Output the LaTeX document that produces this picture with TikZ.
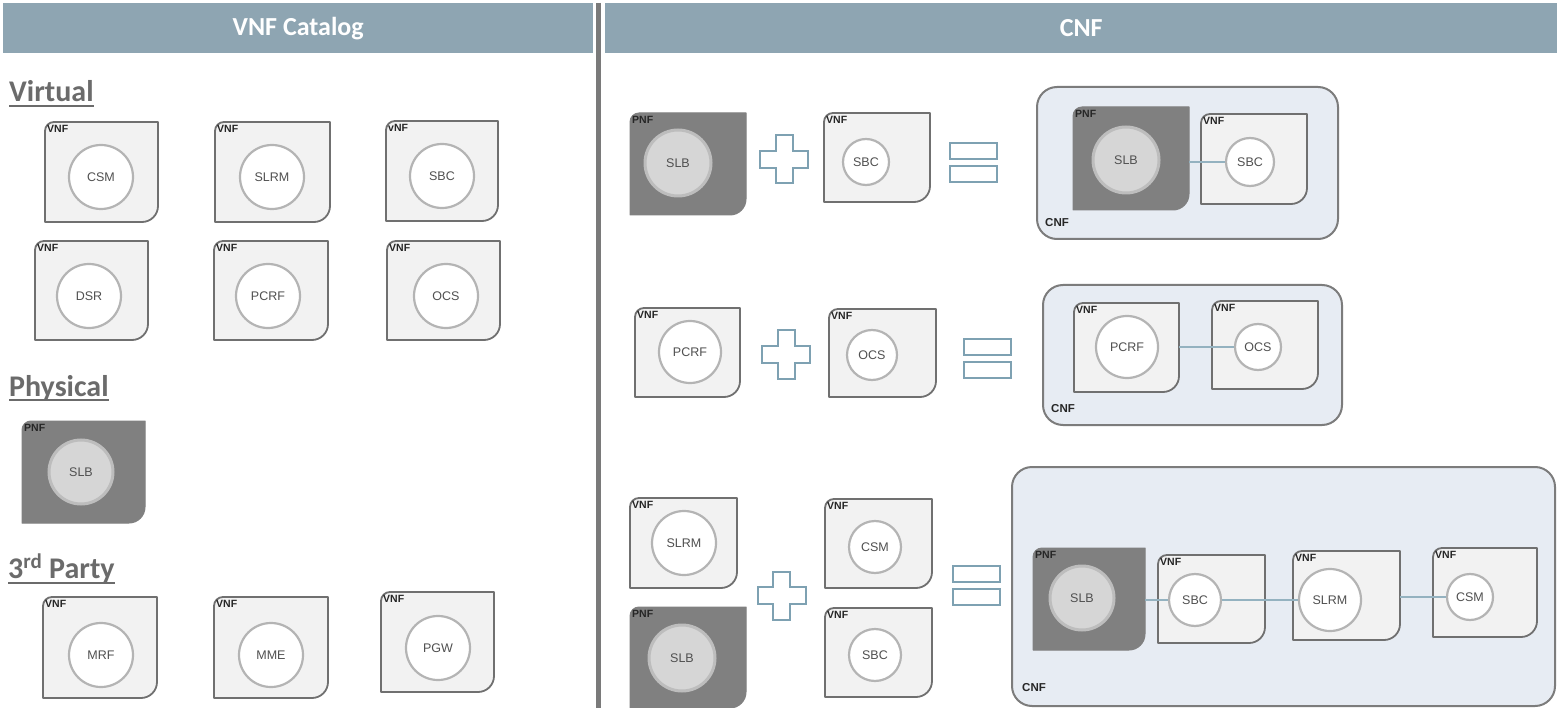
\documentclass[tikz,border=0pt]{standalone}
\usepackage{fontspec}
\setmainfont{Liberation Sans}
\newfontfamily\calfont{Carlito}
\usetikzlibrary{calc}

\definecolor{headblue}{HTML}{8EA5B2}
\definecolor{divgray}{HTML}{7A7A7A}
\definecolor{boxfill}{HTML}{F2F2F2}
\definecolor{boxline}{HTML}{707070}
\definecolor{ringgray}{HTML}{B4B4B4}
\definecolor{pnffill}{HTML}{808080}
\definecolor{pnfcorefill}{HTML}{D6D6D6}
\definecolor{pnfring}{HTML}{BDBDBD}
\definecolor{cnffill}{HTML}{E7ECF3}
\definecolor{cnfline}{HTML}{7C7C7C}
\definecolor{opblue}{HTML}{7EA1B2}
\definecolor{linkblue}{HTML}{94B2C0}
\definecolor{labelgray}{HTML}{6B6B6B}
\definecolor{coretext}{HTML}{505050}

\tikzset{
  frame/.style={inner sep=0pt, outer sep=0pt, draw=none},
  vnfshape/.style={fill=boxfill, draw=boxline, line width=1.8pt, line join=round},
  pnfshape/.style={fill=pnffill, draw=pnffill, line width=1pt, line join=round},
  vnfcore/.style={circle, fill=white, draw=ringgray, line width=2.2pt, inner sep=0pt,
    font=\fontsize{12.5}{12.5}\selectfont, text=coretext},
  pnfcore/.style={circle, fill=pnfcorefill, draw=pnfring, line width=3pt, inner sep=0pt,
    font=\fontsize{12.5}{12.5}\selectfont, text=coretext},
  tag/.style={font=\bfseries\fontsize{10.5}{10.5}\selectfont, inner sep=0pt, anchor=north west, text=black!85},
  cnftag/.style={font=\bfseries\fontsize{11.5}{11.5}\selectfont, inner sep=0pt, anchor=west, text=black!85},
  cnfbox/.style={rectangle, rounded corners=20pt, fill=cnffill, draw=cnfline, line width=2pt, inner sep=0pt},
  headbar/.style={rectangle, fill=headblue, inner sep=0pt, anchor=north west, minimum height=50pt,
    text=white, font=\calfont\bfseries\fontsize{26}{26}\selectfont},
  divline/.style={draw=divgray, line width=5pt},
  section/.style={anchor=base west, inner sep=0pt, text=labelgray,
    font=\calfont\bfseries\fontsize{30}{30}\selectfont},
  underline/.style={draw=labelgray, line width=2pt},
  opsign/.style={draw=opblue, line width=2pt, fill=white},
  link/.style={draw=linkblue, line width=2pt}
}

% function box: style, name, centre, width, height, tag
\newcommand\nfbox[6]{%
  \node[frame, minimum width=#4pt, minimum height=#5pt] (#2) at (#3) {};
  \path[#1] (#2.west) [rounded corners=9pt] -- (#2.north west) -- (#2.north)
     [sharp corners] -- (#2.north east) -- (#2.east)
     [rounded corners=16pt] -- (#2.south east) -- (#2.south)
     [sharp corners] -- (#2.south west) -- cycle;
  \node[tag] (#2-tag) at ([xshift=2pt,yshift=-3pt]#2.north west) {#6};
}
% function core: style, name, centre, diameter, text
\newcommand\nfcore[5]{\node[#1, minimum size=#4pt] (#2) at (#3) {#5};}
% plus sign
\newcommand\plusmark[2]{%
  \node[frame, minimum size=48pt] (#1) at (#2) {};
  \draw[opsign] (#1.center) ++(-8.5,-24) -- ++(17,0) -- ++(0,15.5) -- ++(15.5,0)
    -- ++(0,17) -- ++(-15.5,0) -- ++(0,15.5) -- ++(-17,0) -- ++(0,-15.5)
    -- ++(-15.5,0) -- ++(0,-17) -- ++(15.5,0) -- cycle;
}
% equals sign
\newcommand\equalmark[2]{%
  \node[frame, minimum width=47pt, minimum height=39pt] (#1) at (#2) {};
  \draw[opsign] (#1.north west) rectangle ++(47,16);
  \draw[opsign] (#1.south west) rectangle ++(47,-16);
}

\begin{document}
\begin{tikzpicture}[x=1pt,y=-1pt]
\useasboundingbox (0,0) rectangle (1557,708);
\fill[white] (0,0) rectangle (1557,708);

% headers and divider
\node[headbar, minimum width=590pt] (cathead) at (3,3) {VNF Catalog};
\node[headbar, minimum width=952pt] (cnfhead) at (605,3) {CNF};
\coordinate (divtop) at (598,3);
\coordinate (divbot) at (598,708);
\draw[divline] (divtop) -- (divbot);

% ---------------- catalogue ----------------
\node[section] (virt) at (9,102) {Virtual};
\draw[underline] ([yshift=-4pt]virt.base west) -- ([yshift=-4pt]virt.base east);
\node[section] (phys) at (9,396) {Physical};
\draw[underline] ([yshift=-4pt]phys.base west) -- ([yshift=-4pt]phys.base east);
\node[section] (third) at (8,578) {3\textsuperscript{rd} Party};
\draw[underline] ([yshift=-5pt]third.base west) -- ([yshift=-5pt]third.base east);

\nfbox{vnfshape}{cCSM}{101.5,172}{113}{100}{VNF}
\nfcore{vnfcore}{cCSMc}{101,177}{64}{CSM}
\nfbox{vnfshape}{cSLRM}{272.5,172}{115}{100}{VNF}
\nfcore{vnfcore}{cSLRMc}{272,177}{64}{SLRM}
\nfbox{vnfshape}{cSBC}{442,171}{112}{100}{vNF}
\nfcore{vnfcore}{cSBCc}{442,176}{64}{SBC}
\nfbox{vnfshape}{cDSR}{91.5,290.5}{113}{99}{VNF}
\nfcore{vnfcore}{cDSRc}{89,296}{64}{DSR}
\nfbox{vnfshape}{cPCRF}{271,290.5}{114}{99}{VNF}
\nfcore{vnfcore}{cPCRFc}{268,296}{64}{PCRF}
\nfbox{vnfshape}{cOCS}{443.5,290.5}{113}{99}{VNF}
\nfcore{vnfcore}{cOCSc}{446,296}{64}{OCS}

\nfbox{pnfshape}{cSLB}{83.5,472}{123}{102}{PNF}
\nfcore{pnfcore}{cSLBc}{81,472}{64}{SLB}

\nfbox{vnfshape}{cMRF}{100,647.5}{114}{101}{VNF}
\nfcore{vnfcore}{cMRFc}{101,655}{64}{MRF}
\nfbox{vnfshape}{cMME}{271,647.5}{114}{101}{VNF}
\nfcore{vnfcore}{cMMEc}{271,655}{64}{MME}
\nfbox{vnfshape}{cPGW}{437.5,642}{113}{100}{VNF}
\nfcore{vnfcore}{cPGWc}{438,648}{64}{PGW}

% ---------------- composition 1: SLB + SBC ----------------
\nfbox{pnfshape}{aSLB}{688,164}{116}{102}{PNF}
\nfcore{pnfcore}{aSLBc}{678,163}{66}{SLB}
\plusmark{aplus}{784,159.5}
\nfbox{vnfshape}{aSBC}{877,157.5}{106}{89}{VNF}
\nfcore{vnfcore}{aSBCc}{866,162}{46}{SBC}
\equalmark{aeq}{973.5,163}

\node[cnfbox, minimum width=301pt, minimum height=152pt] (acnf) at (1187.5,163) {};
\node[cnftag] (acnf-tag) at (1045,223) {CNF};
\nfbox{pnfshape}{xSLB}{1131,158.5}{116}{103}{PNF}
\nfcore{pnfcore}{xSLBc}{1126,160}{66}{SLB}
\nfbox{vnfshape}{xSBC}{1254,159}{106}{90}{VNF}
\nfcore{vnfcore}{xSBCc}{1250,162}{48}{SBC}
\draw[link] (xSLB.east |- xSBCc.west) -- (xSBCc.west);

% ---------------- composition 2: PCRF + OCS ----------------
\nfbox{vnfshape}{bPCRF}{687.5,352.5}{105}{89}{VNF}
\nfcore{vnfcore}{bPCRFc}{690,352}{62}{PCRF}
\plusmark{bplus}{786,354.5}
\nfbox{vnfshape}{bOCS}{882.5,353}{107}{88}{VNF}
\nfcore{vnfcore}{bOCSc}{872,355}{50}{OCS}
\equalmark{beq}{987,358.5}

\node[cnfbox, minimum width=299pt, minimum height=140pt] (bcnf) at (1192.5,355) {};
\node[cnftag] (bcnf-tag) at (1051,409) {CNF};
\nfbox{vnfshape}{yPCRF}{1126.5,347.5}{105}{89}{VNF}
\nfcore{vnfcore}{yPCRFc}{1127,347}{62}{PCRF}
\nfbox{vnfshape}{yOCS}{1265,345}{106}{88}{VNF}
\nfcore{vnfcore}{yOCSc}{1258,347}{46}{OCS}
\draw[link] (yPCRF.east |- yOCSc.west) -- (yOCSc.west);

% ---------------- composition 3: SLRM, SLB + CSM, SBC ----------------
\nfbox{vnfshape}{dSLRM}{683.5,543}{107}{90}{VNF}
\nfcore{vnfcore}{dSLRMc}{684,543}{64}{SLRM}
\nfbox{pnfshape}{dSLB}{688,657.5}{116}{101}{PNF}
\nfcore{pnfcore}{dSLBc}{682,658}{66}{SLB}
\plusmark{dplus}{781.5,595.5}
\nfbox{vnfshape}{dCSM}{878.5,543.5}{107}{89}{VNF}
\nfcore{vnfcore}{dCSMc}{875,547}{52}{CSM}
\nfbox{vnfshape}{dSBC}{878.5,652.5}{107}{89}{VNF}
\nfcore{vnfcore}{dSBCc}{875,655}{52}{SBC}
\equalmark{deq}{976,585.5}

\node[cnfbox, minimum width=543pt, minimum height=239pt] (dcnf) at (1283.5,586.5) {};
\node[cnftag] (dcnf-tag) at (1022,688) {CNF};
\nfbox{pnfshape}{zSLB}{1089,599}{112}{102}{PNF}
\nfcore{pnfcore}{zSLBc}{1082,598}{64}{SLB}
\nfbox{vnfshape}{zSBC}{1211.5,599}{107}{88}{VNF}
\nfcore{vnfcore}{zSBCc}{1195,600}{52}{SBC}
\nfbox{vnfshape}{zSLRM}{1346.5,595.5}{107}{89}{VNF}
\nfcore{vnfcore}{zSLRMc}{1330,600}{62}{SLRM}
\nfbox{vnfshape}{zCSM}{1485,592.5}{104}{89}{VNF}
\nfcore{vnfcore}{zCSMc}{1470,597}{46}{CSM}
\draw[link] (zSLB.east |- zSBCc.west) -- (zSBCc.west);
\draw[link] (zSBCc.east) -- (zSLRMc.west);
\draw[link] (zSLRM.east |- zCSMc.west) -- (zCSMc.west);
\end{tikzpicture}
\end{document}
